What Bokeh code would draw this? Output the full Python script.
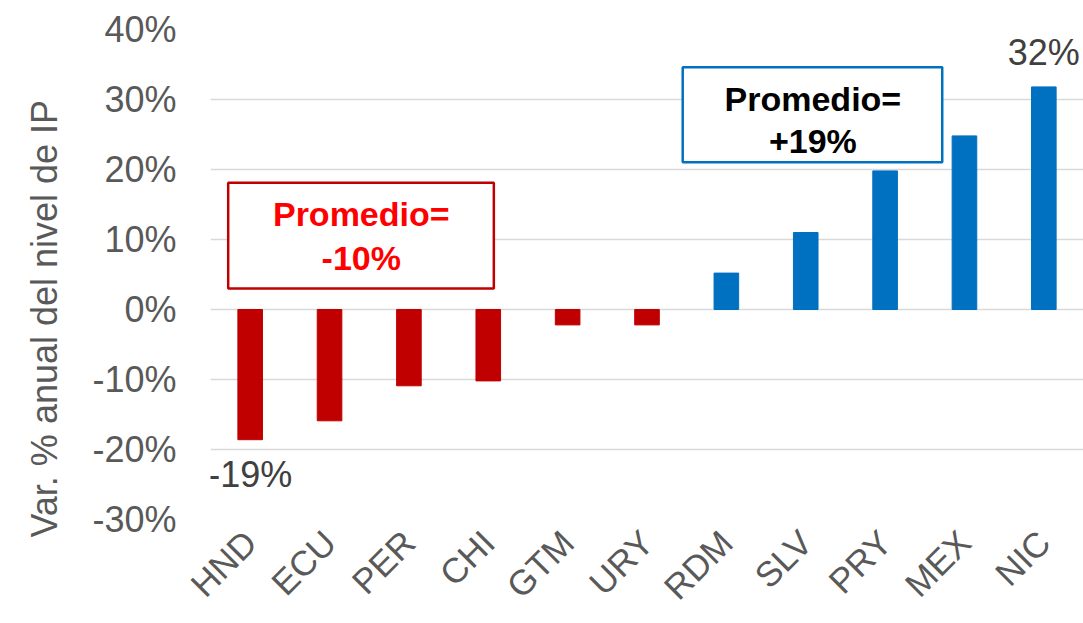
import numpy as np
from bokeh.plotting import figure
from bokeh.models import (FactorRange, Range1d, PrintfTickFormatter, Label,
                          BoxAnnotation, ColumnDataSource, FixedTicker, Title)
from bokeh.embed import file_html
from bokeh.resources import INLINE

# ---- data ----
categories = ["HND", "ECU", "PER", "CHI", "GTM", "URY", "RDM", "SLV", "PRY", "MEX", "NIC"]
values = [-18.6, -15.9, -10.9, -10.2, -2.2, -2.2, 5.2, 11.0, 19.8, 24.8, 31.8]
y_ticks = [-30, -20, -10, 0, 10, 20, 30, 40]
axis_title = "Var. % anual del nivel de IP"
avg_label = "Promedio="

FONT = "Liberation Sans"
RED = "#C00000"
BLUE = "#0070C0"
GREY = "#595959"

colors = [RED if v < 0 else BLUE for v in values]
src = ColumnDataSource(dict(cat=categories, val=values, color=colors))

p = figure(x_range=FactorRange(*categories), y_range=Range1d(-30, 40),
           width=1083, height=623, output_backend="svg", toolbar_location=None,
           min_border_left=209, min_border_right=0, min_border_top=29,
           min_border_bottom=104)
p.vbar(x="cat", top="val", width=0.31, color="color", source=src)

# axes
p.outline_line_color = None
p.xgrid.grid_line_color = None
p.ygrid.grid_line_color = "#D9D9D9"
p.ygrid.grid_line_width = 1.5

p.yaxis.ticker = FixedTicker(ticks=y_ticks)
p.yaxis.formatter = PrintfTickFormatter(format="%d%%")
for ax in (p.xaxis, p.yaxis):
    ax.axis_line_color = None
    ax.major_tick_line_color = None
    ax.minor_tick_line_color = None
    ax.major_tick_out = 0
    ax.major_tick_in = 0
    ax.major_label_text_font = FONT
    ax.major_label_text_color = GREY
p.yaxis.major_label_text_font_size = "36px"
p.yaxis.major_label_standoff = 34
p.xaxis.major_label_text_font_size = "35px"
p.xaxis.major_label_orientation = np.pi / 4
p.xaxis.major_label_standoff = 17

# y-axis title (placed as a left-side title so it can be shifted along the axis)
p.add_layout(Title(text=axis_title, align="left", offset=-18, vertical_align="top",
                   standoff=46, text_font=FONT, text_font_size="36px",
                   text_font_style="normal", text_color=GREY), "left")

# data labels for extremes
i_min = int(np.argmin(values))
i_max = int(np.argmax(values))
p.add_layout(Label(x=i_min + 0.5, y=values[i_min], y_offset=-35,
                   text=f"{round(values[i_min]):.0f}%", text_font=FONT,
                   text_font_size="36px", text_color="#404040",
                   text_align="center", text_baseline="middle"))
p.add_layout(Label(x=i_max + 0.5, y=values[i_max], y_offset=34,
                   text=f"{round(values[i_max]):.0f}%", text_font=FONT,
                   text_font_size="36px", text_color="#404040",
                   text_align="center", text_baseline="middle"))

neg = [v for v in values if v < 0]
pos = [v for v in values if v > 0]
neg_avg = sum(neg) / len(neg)
pos_avg = sum(pos) / len(pos)

# red average box
p.add_layout(BoxAnnotation(left=0.223, right=3.57, bottom=3.0, top=18.09,
                           fill_color="white", fill_alpha=1.0,
                           line_color=RED, line_width=2.5, line_alpha=1.0))
p.add_layout(Label(x=1.90, y=13.69, text=avg_label, text_font=FONT,
                   text_font_size="34px", text_font_style="bold", text_color="#FF0000",
                   text_align="center", text_baseline="middle"))
p.add_layout(Label(x=1.90, y=7.37, text=f"{neg_avg:+.0f}%", text_font=FONT,
                   text_font_size="34px", text_font_style="bold", text_color="#FF0000",
                   text_align="center", text_baseline="middle"))

# blue average box
p.add_layout(BoxAnnotation(left=5.95, right=9.22, bottom=21.04, top=34.6,
                           fill_color="white", fill_alpha=1.0,
                           line_color=BLUE, line_width=2.5, line_alpha=1.0))
p.add_layout(Label(x=7.59, y=30.04, text=avg_label, text_font=FONT,
                   text_font_size="34px", text_font_style="bold", text_color="black",
                   text_align="center", text_baseline="middle"))
p.add_layout(Label(x=7.59, y=24.04, text=f"{pos_avg:+.0f}%", text_font=FONT,
                   text_font_size="34px", text_font_style="bold", text_color="black",
                   text_align="center", text_baseline="middle"))

open("out.html", "w").write(file_html(p, INLINE))
